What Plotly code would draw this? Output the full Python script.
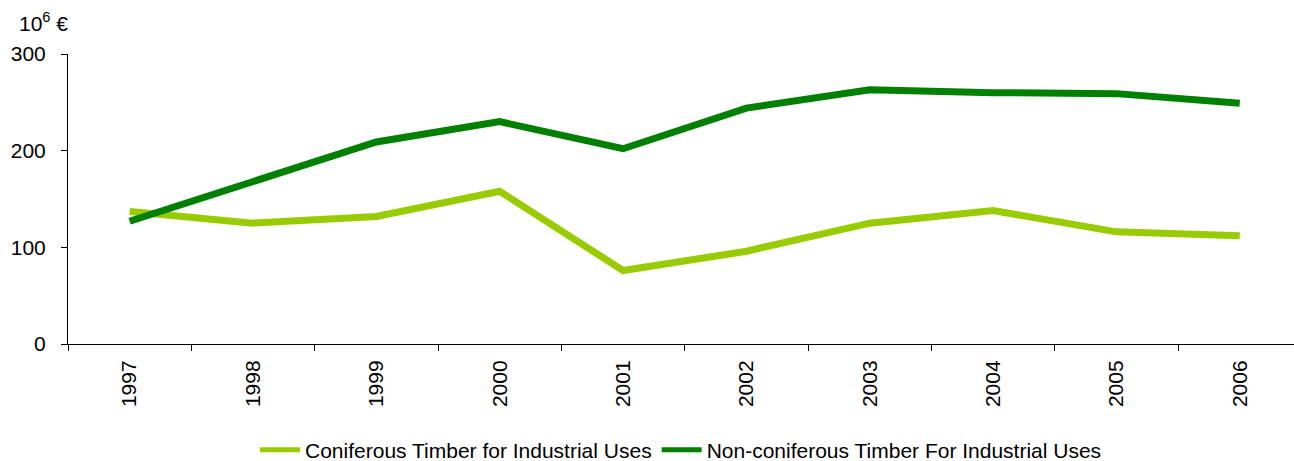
import plotly.graph_objects as go

years = ["1997", "1998", "1999", "2000", "2001", "2002", "2003", "2004", "2005", "2006"]
coniferous = [137, 125, 132, 158, 76, 96, 125, 138, 116, 112]
non_coniferous = [127, 168, 209, 230, 202, 244, 263, 260, 259, 249]
y_ticks = [0, 100, 200, 300]

FONT = "Liberation Sans, Arial, sans-serif"
FS = 21

fig = go.Figure()
fig.add_trace(go.Scatter(
    x=years, y=coniferous, mode="lines",
    name="Coniferous Timber for Industrial Uses",
    line=dict(color="#99CC00", width=7),
))
fig.add_trace(go.Scatter(
    x=years, y=non_coniferous, mode="lines",
    name="Non-coniferous Timber For Industrial Uses",
    line=dict(color="#008000", width=7),
))

fig.update_layout(
    width=1294, height=461,
    margin=dict(l=68, r=0, t=54, b=117, autoexpand=False),
    paper_bgcolor="white", plot_bgcolor="white",
    font=dict(family=FONT, size=FS, color="black"),
    showlegend=True,
    legend=dict(orientation="h", x=0.5, xanchor="center", y=-0.366, yanchor="middle",
                font=dict(size=FS), itemsizing="constant", traceorder="normal",
                itemwidth=40),
    xaxis=dict(
        type="category", range=[-0.5, 9.44], automargin=False,
        showline=True, linecolor="black", linewidth=1,
        ticks="outside", ticklen=6, tickcolor="black", tickson="boundaries",
        tickangle=-90, showgrid=False, zeroline=False,
        tickfont=dict(size=FS), ticklabelstandoff=7,
    ),
    yaxis=dict(
        range=[0, 300], tickvals=y_ticks, automargin=False,
        showline=True, linecolor="black", linewidth=1,
        ticks="outside", ticklen=6, tickcolor="black",
        showgrid=False, zeroline=False,
        tickfont=dict(size=FS), ticklabelstandoff=11,
    ),
)

fig.add_annotation(
    text="10<sup>6</sup> €", xref="paper", yref="paper",
    x=-0.042, y=1.06, xanchor="left", yanchor="bottom",
    showarrow=False, font=dict(size=FS),
)

fig.write_html("out.html")
